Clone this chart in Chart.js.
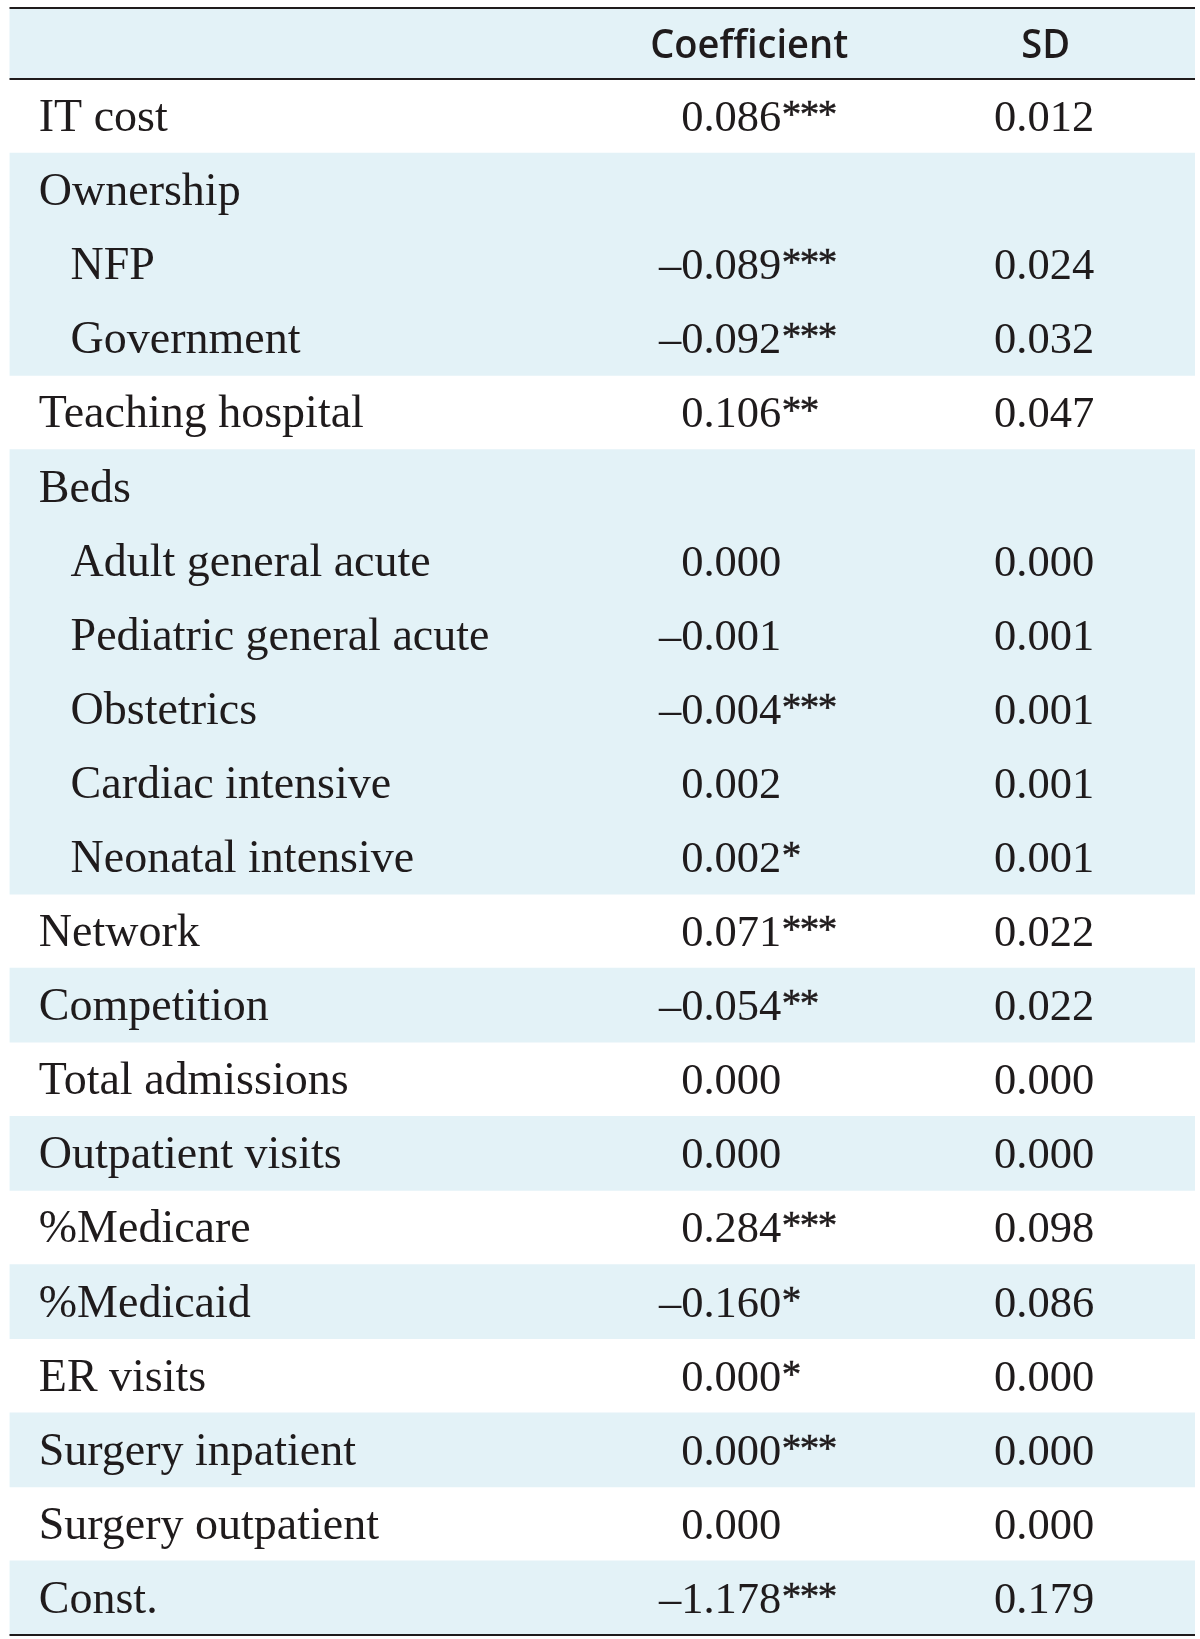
<!DOCTYPE html>
<html><head><meta charset="utf-8">
<script src="https://cdn.jsdelivr.net/npm/chart.js@4.4.1/dist/chart.umd.min.js"></script>
<style>html,body{margin:0;padding:0;background:#fff;}canvas{display:block;}</style>
</head><body>
<canvas id="c" width="1200" height="1639" style="width:1200px;height:1639px"></canvas>
<script>
// ---- data ----
const columns = ['Coefficient', 'SD'];
const labels = ['IT cost','Ownership','NFP','Government','Teaching hospital','Beds',
  'Adult general acute','Pediatric general acute','Obstetrics','Cardiac intensive','Neonatal intensive',
  'Network','Competition','Total admissions','Outpatient visits','%Medicare','%Medicaid',
  'ER visits','Surgery inpatient','Surgery outpatient','Const.'];
const indent = [0,0,1,1,0,0,1,1,1,1,1,0,0,0,0,0,0,0,0,0,0];
const coefficient = [0.086,null,-0.089,-0.092,0.106,null,0.000,-0.001,-0.004,0.002,0.002,
  0.071,-0.054,0.000,0.000,0.284,-0.160,0.000,0.000,0.000,-1.178];
const stars = ['***','','***','***','**','','','','***','','*','***','**','','','***','*','*','***','','***'];
const sd = [0.012,null,0.024,0.032,0.047,null,0.000,0.001,0.001,0.001,0.001,
  0.022,0.022,0.000,0.000,0.098,0.086,0.000,0.000,0.000,0.179];
const shaded = [0,1,1,1,0,1,1,1,1,1,1,0,1,0,1,0,1,0,1,0,1];

// ---- styles ----
const FILL = '#e3f2f7';
const INK = '#1f1b1c';
const SERIF = '"Liberation Serif", "DejaVu Serif", serif';
const SANS = '"Open Sans", "Noto Sans", sans-serif';
const COL = {label: 2.47, indent: 5.15, coefRight: 65.1, sdRight: 91.5, coefHead: 62.4, sdHead: 87.4};
const HEAD_H = 70;
const HEAD_W = 198; // rendered width of the first header word

function fmt(v){ return v === null ? '' : (v < 0 ? '\u2013' : '') + Math.abs(v).toFixed(3); }

const tablePlugin = {
  id: 'table',
  beforeDatasetsDraw(chart){
    const {ctx, chartArea:a} = chart;
    ctx.save();
    ctx.fillStyle = FILL;
    ctx.fillRect(a.left, a.top - HEAD_H, a.right - a.left, HEAD_H);
    ctx.restore();
  },
  afterDatasetsDraw(chart){
    const {ctx, chartArea:a, scales:{x, y}} = chart;
    ctx.save();
    ctx.fillStyle = INK;
    // header (condensed by horizontal scaling)
    ctx.font = '600 39px ' + SANS;
    ctx.textAlign = 'center';
    ctx.textBaseline = 'alphabetic';
    const sx = HEAD_W / ctx.measureText(columns[0]).width;
    const hy = a.top - HEAD_H/2 + 14;
    [COL.coefHead, COL.sdHead].forEach((c, k) => {
      ctx.save();
      ctx.translate(x.getPixelForValue(c), hy);
      ctx.scale(sx, 1);
      ctx.fillText(columns[k], 0, 0);
      ctx.restore();
    });
    // rows
    labels.forEach((lab, i) => {
      const cy = y.getPixelForTick(i) + 15;
      ctx.font = '46px ' + SERIF;
      ctx.textAlign = 'left';
      ctx.fillText(lab, x.getPixelForValue(indent[i] ? COL.indent : COL.label), cy);
      ctx.font = '44.5px ' + SERIF;
      if (coefficient[i] !== null){
        ctx.textAlign = 'right';
        const rx = x.getPixelForValue(COL.coefRight);
        ctx.fillText(fmt(coefficient[i]), rx, cy);
        if (stars[i]){
          ctx.save();
          ctx.font = '39px ' + SERIF;
          ctx.textAlign = 'left';
          ctx.letterSpacing = '-1.5px';
          ctx.lineWidth = 0.5;
          ctx.strokeStyle = INK;
          ctx.fillText(stars[i], rx + 0.5, cy - 4);
          ctx.strokeText(stars[i], rx + 0.5, cy - 4);
          ctx.restore();
        }
      }
      if (sd[i] !== null){
        ctx.font = '44.5px ' + SERIF;
        ctx.textAlign = 'right';
        ctx.fillText(fmt(sd[i]), x.getPixelForValue(COL.sdRight), cy);
      }
    });
    // rules
    ctx.strokeStyle = INK;
    ctx.lineWidth = 2.2;
    [a.top - HEAD_H - 1, a.top, a.bottom].forEach(yy => {
      ctx.beginPath(); ctx.moveTo(a.left, yy); ctx.lineTo(a.right, yy); ctx.stroke();
    });
    ctx.restore();
  }
};

new Chart(document.getElementById('c'), {
  type: 'bar',
  data: {
    labels: labels,
    datasets: [{
      data: labels.map(() => 100),
      backgroundColor: shaded.map(s => s ? FILL : 'rgba(255,255,255,0)'),
      borderWidth: 0,
      barPercentage: 1,
      categoryPercentage: 1
    }]
  },
  options: {
    indexAxis: 'y',
    responsive: false,
    animation: false,
    devicePixelRatio: 1,
    layout: {padding: {top: 79, bottom: 4, left: 9.5, right: 5}},
    scales: {
      x: {type: 'linear', min: 0, max: 100, display: false},
      y: {type: 'category', display: false}
    },
    plugins: {legend: {display: false}, tooltip: {enabled: false}}
  },
  plugins: [tablePlugin]
});
</script>
</body></html>
